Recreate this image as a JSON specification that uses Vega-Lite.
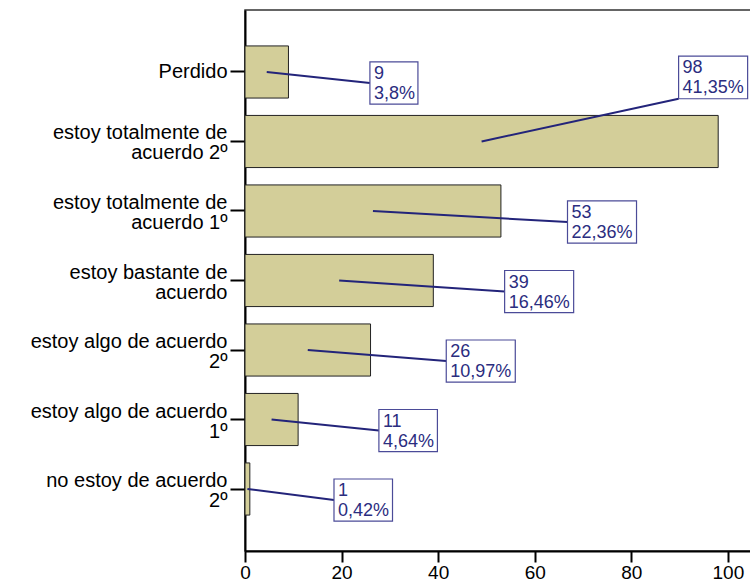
{
  "$schema": "https://vega.github.io/schema/vega-lite/v6.json",
  "width": 507,
  "height": 541,
  "autosize": {"type": "none"},
  "padding": {"left": 245, "top": 10, "right": 0, "bottom": 35},
  "background": "white",
  "config": {
    "font": "Liberation Sans",
    "view": {"stroke": "#333333", "strokeWidth": 1.5},
    "axis": {"grid": false, "domainColor": "black", "domainWidth": 2, "tickColor": "black", "tickWidth": 2, "labelColor": "black", "labelFont": "Liberation Sans", "title": null}
  },
  "data": {
    "values": [
      {"category": "Perdido", "count": 9, "percent": 3.8},
      {"category": "estoy totalmente de acuerdo 2º", "count": 98, "percent": 41.35},
      {"category": "estoy totalmente de acuerdo 1º", "count": 53, "percent": 22.36},
      {"category": "estoy bastante de acuerdo", "count": 39, "percent": 16.46},
      {"category": "estoy algo de acuerdo 2º", "count": 26, "percent": 10.97},
      {"category": "estoy algo de acuerdo 1º", "count": 11, "percent": 4.64},
      {"category": "no estoy de acuerdo 2º", "count": 1, "percent": 0.42}
    ]
  },
  "transform": [
    {"calculate": "replace(toString(datum.percent), '.', ',') + '%'", "as": "pctLabel"},
    {"calculate": "datum.count / 2", "as": "mid"},
    {"calculate": "min(0.93 * datum.count + 17.5, 89.8)", "as": "boxStart"},
    {"calculate": "datum.boxStart + (10.5 * length(datum.pctLabel) + 6) / 4.827", "as": "boxEnd"}
  ],
  "layer": [
    {
      "mark": {"type": "bar", "fill": "#d3ce99", "stroke": "#222222", "strokeWidth": 1},
      "encoding": {
        "y": {
          "field": "category", "type": "nominal", "sort": null,
          "scale": {"paddingInner": 0.25, "paddingOuter": 0.517},
          "axis": {
            "tickSize": 15, "labelPadding": 3, "labelFontSize": 20, "labelLineHeight": 20, "labelLimit": 0,
            "labelOffset": {"condition": {"test": "length(datum.label) > 21", "value": -8}, "value": 0},
            "labelExpr": "length(datum.label) > 21 ? [substring(datum.label, 0, lastindexof(substring(datum.label, 0, 22), ' ')), substring(datum.label, lastindexof(substring(datum.label, 0, 22), ' ') + 1)] : datum.label"
          }
        },
        "x": {
          "field": "count", "type": "quantitative",
          "scale": {"domain": [0, 105], "nice": false},
          "axis": {"values": [0, 20, 40, 60, 80, 100], "tickSize": 11, "labelFontSize": 19, "labelPadding": 1, "labelFlush": false}
        }
      }
    },
    {
      "transform": [{"filter": "datum.count < 90"}],
      "layer": [
        {
          "mark": {"type": "rule", "stroke": "#23247a", "strokeWidth": 2},
          "encoding": {
            "x": {"field": "mid", "type": "quantitative"},
            "x2": {"field": "boxStart"},
            "y": {"field": "category", "type": "nominal", "sort": null, "bandPosition": 0.5},
            "y2": {"field": "category", "bandPosition": 0.7115}
          }
        },
        {
          "mark": {"type": "rect", "fill": "white", "stroke": "#4b4b98", "strokeWidth": 1.2},
          "encoding": {
            "x": {"field": "boxStart", "type": "quantitative"},
            "x2": {"field": "boxEnd"},
            "y": {"field": "category", "type": "nominal", "sort": null, "bandPosition": 0.3077},
            "y2": {"field": "category", "bandPosition": 1.1154}
          }
        },
        {
          "mark": {"type": "text", "align": "left", "baseline": "alphabetic", "dx": 4, "fontSize": 18, "color": "#2b2d7f"},
          "encoding": {
            "x": {"field": "boxStart", "type": "quantitative"},
            "y": {"field": "category", "type": "nominal", "sort": null, "bandPosition": 0.64},
            "text": {"field": "count", "type": "quantitative"}
          }
        },
        {
          "mark": {"type": "text", "align": "left", "baseline": "alphabetic", "dx": 4, "fontSize": 18, "color": "#2b2d7f"},
          "encoding": {
            "x": {"field": "boxStart", "type": "quantitative"},
            "y": {"field": "category", "type": "nominal", "sort": null, "bandPosition": 1.024},
            "text": {"field": "pctLabel", "type": "nominal"}
          }
        }
      ]
    },
    {
      "transform": [{"filter": "datum.count >= 90"}],
      "layer": [
        {
          "mark": {"type": "rule", "stroke": "#23247a", "strokeWidth": 2},
          "encoding": {
            "x": {"field": "mid", "type": "quantitative"},
            "x2": {"field": "boxStart"},
            "y": {"field": "category", "type": "nominal", "sort": null, "bandPosition": 0.5},
            "y2": {"field": "category", "bandPosition": -0.32}
          }
        },
        {
          "mark": {"type": "rect", "fill": "white", "stroke": "#4b4b98", "strokeWidth": 1.2},
          "encoding": {
            "x": {"field": "boxStart", "type": "quantitative"},
            "x2": {"field": "boxEnd"},
            "y": {"field": "category", "type": "nominal", "sort": null, "bandPosition": -1.137},
            "y2": {"field": "category", "bandPosition": -0.32}
          }
        },
        {
          "mark": {"type": "text", "align": "left", "baseline": "alphabetic", "dx": 4, "fontSize": 18, "color": "#2b2d7f"},
          "encoding": {
            "x": {"field": "boxStart", "type": "quantitative"},
            "y": {"field": "category", "type": "nominal", "sort": null, "bandPosition": -0.805},
            "text": {"field": "count", "type": "quantitative"}
          }
        },
        {
          "mark": {"type": "text", "align": "left", "baseline": "alphabetic", "dx": 4, "fontSize": 18, "color": "#2b2d7f"},
          "encoding": {
            "x": {"field": "boxStart", "type": "quantitative"},
            "y": {"field": "category", "type": "nominal", "sort": null, "bandPosition": -0.421},
            "text": {"field": "pctLabel", "type": "nominal"}
          }
        }
      ]
    }
  ]
}
